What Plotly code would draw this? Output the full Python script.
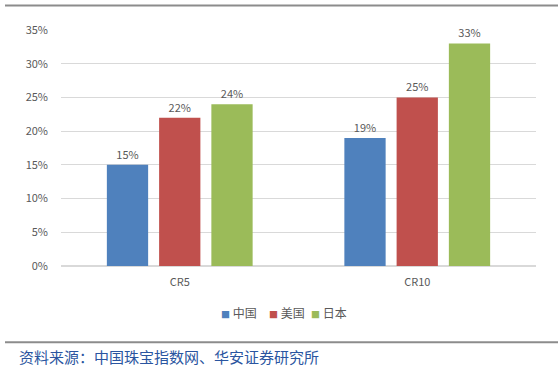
import plotly.graph_objects as go

categories = ["CR5", "CR10"]
series_names = ["中国", "美国", "日本"]
china = [0.15, 0.19]
usa = [0.22, 0.25]
japan = [0.24, 0.33]
colors = ["#4F81BD", "#C0504D", "#9BBB59"]
y_ticks = [0, 0.05, 0.10, 0.15, 0.20, 0.25, 0.30, 0.35]
y_tick_labels = ["0%", "5%", "10%", "15%", "20%", "25%", "30%", "35%"]
source_text = "资料来源：中国珠宝指数网、华安证券研究所"

W, H = 558, 375
L, R, T, B = 61, 22, 29.5, 108.5
pw, ph = W - L - R, H - T - B

def px_x(x):
    return (x - L) / pw

def px_y(y):
    return (H - B - y) / ph

fig = go.Figure()
for name, vals, c in zip(series_names, [china, usa, japan], colors):
    fig.add_trace(go.Bar(
        x=categories, y=vals, name=name, marker_color=c, marker_line_width=0,
        text=[f"{round(v*100)}%" for v in vals], textposition="outside",
        textfont=dict(size=11, color="#595959"), cliponaxis=False,
    ))

legend_x = [219, 267, 309]
legend_ann = [
    dict(text=f"<span style='color:{c};font-size:9px'>■</span> {n}", xref="paper", yref="paper",
         x=px_x(lx), y=px_y(313), xanchor="left", yanchor="middle", showarrow=False,
         font=dict(size=12, color="#595959"))
    for n, c, lx in zip(series_names, colors, legend_x)
]

fig.update_layout(
    width=W, height=H,
    margin=dict(l=L, r=R, t=T, b=B),
    paper_bgcolor="white", plot_bgcolor="white",
    font=dict(family="Noto Sans CJK SC, DejaVu Sans", size=11, color="#595959"),
    barmode="group", bargap=0.34, bargroupgap=0.21,
    showlegend=False,
    xaxis=dict(showgrid=False, showline=False, ticks="", ticklabelstandoff=8,
               tickfont=dict(size=11, color="#595959")),
    yaxis=dict(range=[0, 0.35], tickvals=y_ticks, ticktext=y_tick_labels, showgrid=True,
               gridcolor="#D9D9D9", gridwidth=1, zeroline=True, zerolinecolor="#D9D9D9",
               showline=False, ticks="", ticklabelstandoff=12, tickfont=dict(size=11, color="#595959")),
    shapes=[
        dict(type="line", xref="paper", yref="paper", x0=px_x(5), x1=px_x(558), y0=px_y(5), y1=px_y(5),
             line=dict(color="#8C8C8C", width=2)),
        dict(type="line", xref="paper", yref="paper", x0=px_x(5), x1=px_x(558), y0=px_y(343), y1=px_y(343),
             line=dict(color="#8C8C8C", width=2)),
    ],
    annotations=legend_ann + [
        dict(text=source_text, xref="paper", yref="paper", x=px_x(17), y=px_y(357), xanchor="left",
             yanchor="middle", showarrow=False, font=dict(size=15, color="#2A55A0")),
    ],
)

fig.write_html("out.html", config={"displayModeBar": False},
               post_script="document.body.style.margin='0';document.body.style.overflow='hidden';")
